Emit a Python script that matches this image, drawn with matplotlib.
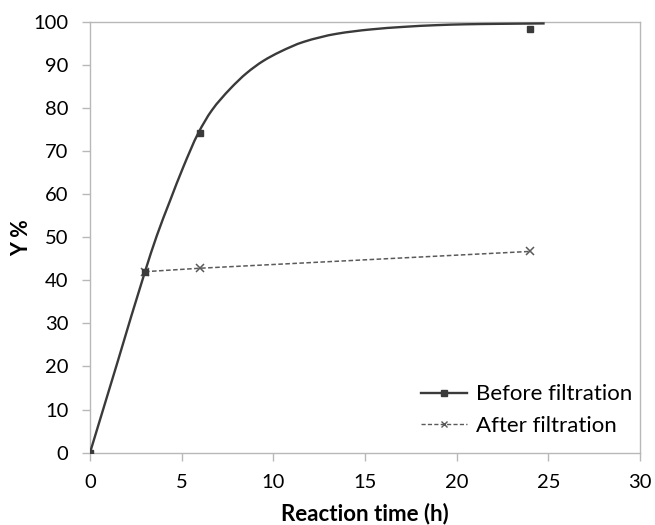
import matplotlib
matplotlib.use("Agg")
import matplotlib.pyplot as plt
from matplotlib.path import Path
from matplotlib.patches import PathPatch
from matplotlib.lines import Line2D

plt.rcParams['font.family'] = ['Lato', 'DejaVu Sans']

# Measured points
before_t = [0, 3, 6, 24]
before_y = [0, 42, 74.1, 98.2]
after_t = [3, 6, 24]
after_y = [42, 42.8, 46.7]

# Fitted (smooth) curve
curve_t = [0, 1.5, 3, 3.64, 4.36, 5.09, 5.9, 6.64, 7.64, 8.55, 9.45, 10.36,
           11.64, 13.46, 15.3, 17.1, 18.9, 20.5, 22.2, 24.8]
curve_y = [0, 21, 42, 50.3, 58.4, 66.3, 74.1, 79.4, 84.4, 88.1, 90.9, 93.0,
           95.3, 97.2, 98.2, 98.8, 99.2, 99.4, 99.5, 99.6]

x_ticks = [0, 5, 10, 15, 20, 25, 30]
y_ticks = [0, 10, 20, 30, 40, 50, 60, 70, 80, 90, 100]


def smooth_path(xs, ys):
    """Monotone cubic (PCHIP-style) curve through the points, as Bezier path."""
    n = len(xs)
    h = [xs[i + 1] - xs[i] for i in range(n - 1)]
    d = [(ys[i + 1] - ys[i]) / h[i] for i in range(n - 1)]
    m = [0.0] * n
    m[0] = d[0]
    m[-1] = d[-1]
    for i in range(1, n - 1):
        if d[i - 1] * d[i] <= 0:
            m[i] = 0.0
        else:
            w1 = 2 * h[i] + h[i - 1]
            w2 = h[i] + 2 * h[i - 1]
            m[i] = (w1 + w2) / (w1 / d[i - 1] + w2 / d[i])
    verts = [(xs[0], ys[0])]
    codes = [Path.MOVETO]
    for i in range(n - 1):
        verts += [(xs[i] + h[i] / 3, ys[i] + m[i] * h[i] / 3),
                  (xs[i + 1] - h[i] / 3, ys[i + 1] - m[i + 1] * h[i] / 3),
                  (xs[i + 1], ys[i + 1])]
        codes += [Path.CURVE4] * 3
    return Path(verts, codes)


fig = plt.figure(figsize=(6.55, 5.25), dpi=100)
ax = fig.add_axes([90/655, 1-452.7/525, 550/655, (452.7-21.7)/525])

dark = '#3a3a3a'
gray = '#5a5a5a'

ax.add_patch(PathPatch(smooth_path(curve_t, curve_y), facecolor='none',
                       edgecolor=dark, lw=1.7, zorder=3))
ax.plot(before_t, before_y, ls='none', marker='s', ms=5, color=dark, zorder=4)
ax.plot(after_t, after_y, ls=(0, (3, 1.6)), lw=1.1, color=gray, marker='x',
        ms=6, mew=1.1, zorder=3)

h1 = Line2D([], [], color=dark, lw=1.7, marker='s', ms=4)
h2 = Line2D([], [], color=gray, lw=1.0, ls=(0, (3, 1.6)), marker='x', ms=5, mew=1.0)
leg = fig.legend([h1, h2], ['Before filtration', 'After filtration'],
                 loc='center left', bbox_to_anchor=(421/655, 1-410/525),
                 frameon=False, fontsize=16, handlelength=2.07,
                 handletextpad=0.4, labelspacing=0.5, borderpad=0,
                 borderaxespad=0, numpoints=1)

ax.set_xlim(0, 30)
ax.set_ylim(0, 100)
ax.set_xticks(x_ticks)
ax.set_yticks(y_ticks)
ax.set_xticklabels([str(v) for v in x_ticks])
ax.set_yticklabels([str(v) for v in y_ticks])

spine_c = '#b8b8b8'
for s in ax.spines.values():
    s.set_color(spine_c)
    s.set_linewidth(1.0)
ax.tick_params(axis='both', direction='out', length=5.5, width=1.0,
               color=spine_c, labelsize=14.5, labelcolor='black')
ax.tick_params(axis='x', pad=10)
ax.tick_params(axis='y', pad=10)

ax.set_xlabel('Reaction time (h)', fontsize=16, fontweight='bold')
ax.set_ylabel('Y %', fontsize=15.5, fontweight='bold')
ax.xaxis.label.set_va('top')
ax.xaxis.set_label_coords(0.5, -0.117)
ax.yaxis.label.set_va('center')
ax.yaxis.set_label_coords(-0.125, 0.5)

fig.savefig('out.png', dpi=100)
